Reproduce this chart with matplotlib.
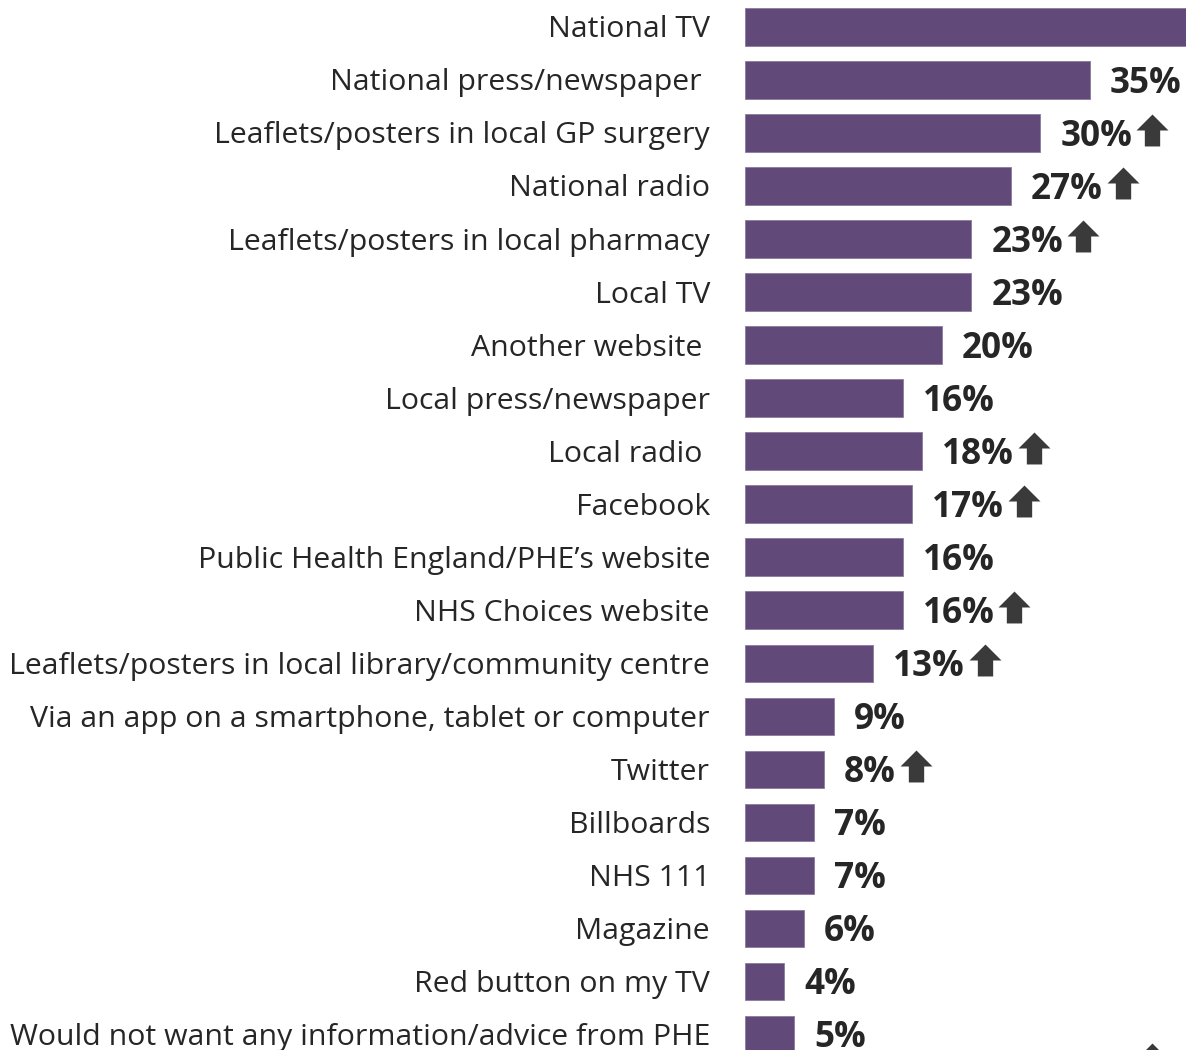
import numpy as np
import matplotlib.pyplot as plt
from matplotlib.path import Path

# sources of information, top to bottom
sources = [
    "National TV",
    "National press/newspaper ",
    "Leaflets/posters in local GP surgery",
    "National radio",
    "Leaflets/posters in local pharmacy",
    "Local TV",
    "Another website ",
    "Local press/newspaper",
    "Local radio ",
    "Facebook",
    "Public Health England/PHE\u2019s website",
    "NHS Choices website",
    "Leaflets/posters in local library/community centre",
    "Via an app on a smartphone, tablet or computer",
    "Twitter",
    "Billboards",
    "NHS 111",
    "Magazine",
    "Red button on my TV",
    "Would not want any information/advice from PHE",
]
pct = [52, 35, 30, 27, 23, 23, 20, 16, 18, 17, 16, 16, 13, 9, 8, 7, 7, 6, 4, 5]
# significant increase markers
increase = [False, False, True, True, True, False, False, False, True, True,
            False, True, True, False, True, False, False, False, False, False]

bar_col = "#614a79"
txt_col = "#262626"
arrow_col = "#3a3a3a"

W, H, DPI = 1186, 1050, 100
fig = plt.figure(figsize=(W / DPI, H / DPI), dpi=DPI)
ax = fig.add_axes([745 / W, 0, 1 - 745 / W, 1])

XMAX = 44.8
y = np.arange(len(sources))
ax.barh(y, pct, height=0.7, color=bar_col, edgecolor="#8a7a9c", linewidth=0.6)
ax.set_xlim(0, XMAX)
ax.set_ylim(19.30, -0.509)
ax.axis("off")

# category names to the left of the bars
for yi, name in zip(y, sources):
    ax.annotate(name, xy=(0, yi), xytext=(-35, -3), textcoords="offset pixels",
                ha="right", va="center", fontsize=21.8, color=txt_col,
                family="Open Sans", annotation_clip=False)

# value labels (the longest bar runs off the panel, so its label does too)
vlabels = []
for yi, v in zip(y, pct):
    if v > XMAX:
        vlabels.append(None)
        continue
    t = ax.annotate(f"{v}%", xy=(v, yi), xytext=(20, -4), textcoords="offset pixels",
                    ha="left", va="center", fontsize=25.3, fontweight="bold",
                    color=txt_col, family="Open Sans", annotation_clip=False)
    vlabels.append(t)

# up-arrow marker
arrow = Path([(-0.24, -0.5), (0.24, -0.5), (0.24, 0.0), (0.5, 0.0), (0.0, 0.5),
              (-0.5, 0.0), (-0.24, 0.0), (-0.24, -0.5)],
             [Path.MOVETO] + [Path.LINETO] * 6 + [Path.CLOSEPOLY])

fig.canvas.draw()
r = fig.canvas.get_renderer()
inv = ax.transData.inverted()
for t, yi, up in zip(vlabels, y, increase):
    if not up or t is None:
        continue
    bb = t.get_window_extent(r)
    xd, _ = inv.transform((bb.x1 + 20, 0))
    ax.plot([xd], [yi - 0.05], marker=arrow, markersize=23, color=arrow_col,
            markeredgewidth=0, clip_on=False)

# key arrow below the chart
fig.lines.append(plt.Line2D([1152 / W], [-9 / H], marker=arrow, markersize=23,
                            color=arrow_col, markeredgewidth=0,
                            transform=fig.transFigure))

fig.savefig("out.png", dpi=DPI, facecolor="white")
